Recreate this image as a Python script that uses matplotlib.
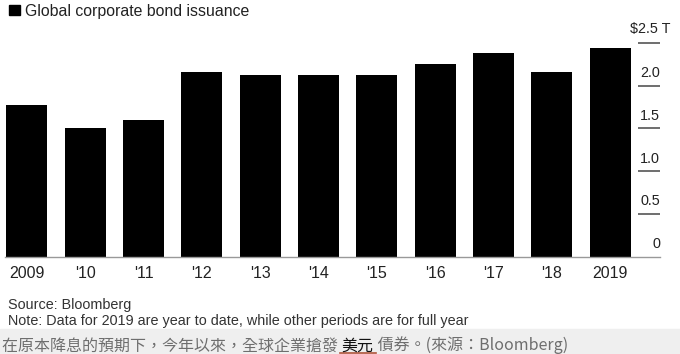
import matplotlib
matplotlib.use("Agg")
import matplotlib.pyplot as plt
from matplotlib.patches import Rectangle

# data (trillion USD)
years = ["2009", "'10", "'11", "'12", "'13", "'14", "'15", "'16", "'17", "'18", "2019"]
issuance = [1.77, 1.50, 1.60, 2.16, 2.12, 2.13, 2.12, 2.25, 2.38, 2.16, 2.44]
tickLevels = [0, 0.5, 1.0, 1.5, 2.0, 2.5]
tickLabels = ["0", "0.5", "1.0", "1.5", "2.0", "$2.5 T"]

titleText = "Global corporate bond issuance"
sourceText = "Source: Bloomberg"
noteText = "Note: Data for 2019 are year to date, while other periods are for full year"
captionBefore = "在原本降息的預期下，今年以來，全球企業搶發 "
captionMark = "美元"
captionAfter = " 債券。(來源：Bloomberg)"

W, H = 680, 354
LATIN = "Liberation Sans"
CJK = ["Noto Sans CJK TC", "DejaVu Sans"]

fig = plt.figure(figsize=(W / 100, H / 100), dpi=100)
fig.patch.set_facecolor("white")

# axes placed in pixels: baseline at y=256.5 from top, x from 5 to 660
ax = fig.add_axes([5 / W, (H - 256.5) / H, 655 / W, 213.5 / H])
ax.bar(range(len(years)), issuance, width=0.703, color="black")
ax.set_xlim(-0.377, 10.857)
ax.set_ylim(0, 2.5)

for s in ["top", "left", "right"]:
    ax.spines[s].set_visible(False)
ax.spines["bottom"].set_color("#999999")
ax.spines["bottom"].set_linewidth(1.0)

ax.set_yticks([])
ax.set_xticks(range(len(years)))
ax.set_xticklabels(years, fontfamily=LATIN, fontsize=11.5, color="#222222")
ax.tick_params(axis="x", length=0, pad=7)

# right side value scale: short dashes with labels sitting above them
ytrans = ax.get_yaxis_transform()
ax.hlines(tickLevels[1:], 0.9664, 1.0, transform=ytrans, color="#555555",
          linewidth=1.2, clip_on=False)
for lvl, lbl in zip(tickLevels, tickLabels):
    if lbl.startswith("$"):
        ax.annotate(lbl, xy=(1.0, lvl), xycoords=ytrans, xytext=(7.5, 10.3),
                    textcoords="offset points", ha="right", va="center",
                    fontfamily=LATIN, fontsize=10.4, color="#222222")
    else:
        ax.annotate(lbl, xy=(1.0, lvl), xycoords=ytrans, xytext=(0, 9),
                    textcoords="offset points", ha="right", va="center",
                    fontfamily=LATIN, fontsize=10.4, color="#222222")

# title with the black square marker
fig.patches.append(Rectangle((9 / W, (H - 15) / H), 11 / W, 10 / H,
                             transform=fig.transFigure, color="black"))
fig.text(25 / W, (H - 16) / H, titleText, fontfamily=LATIN, fontsize=11.4,
         color="#222222", va="baseline", ha="left")

# source and note
fig.text(8 / W, (H - 308.5) / H, sourceText, fontfamily=LATIN, fontsize=10.4,
         color="#333333", va="baseline")
fig.text(8 / W, (H - 324.5) / H, noteText, fontfamily=LATIN, fontsize=10.4,
         color="#333333", va="baseline")

# grey caption band
fig.patches.append(Rectangle((0, 0), 1, 25 / H, transform=fig.transFigure,
                             color="#efefef", zorder=0))
renderer = fig.canvas.get_renderer()
capY = (H - 350.5) / H
t1 = fig.text(2 / W, capY, captionBefore, fontfamily=CJK, fontsize=11.5,
              color="#6e6e6e", va="baseline")
x1 = t1.get_window_extent(renderer).x1 / W
t2 = fig.text(x1, capY, captionMark, fontfamily=CJK, fontsize=11.5,
              color="#111111", va="baseline")
bb = t2.get_window_extent(renderer)
x2 = bb.x1 / W
fig.text(x2, capY, captionAfter, fontfamily=CJK, fontsize=11.5,
         color="#6e6e6e", va="baseline")
fig.add_artist(plt.Line2D([(bb.x0 - 2) / W, (bb.x1 + 2) / W], [1.2 / H, 1.2 / H],
                          transform=fig.transFigure, color="#b0533a", linewidth=1.2))

fig.savefig("out.png", dpi=100)
